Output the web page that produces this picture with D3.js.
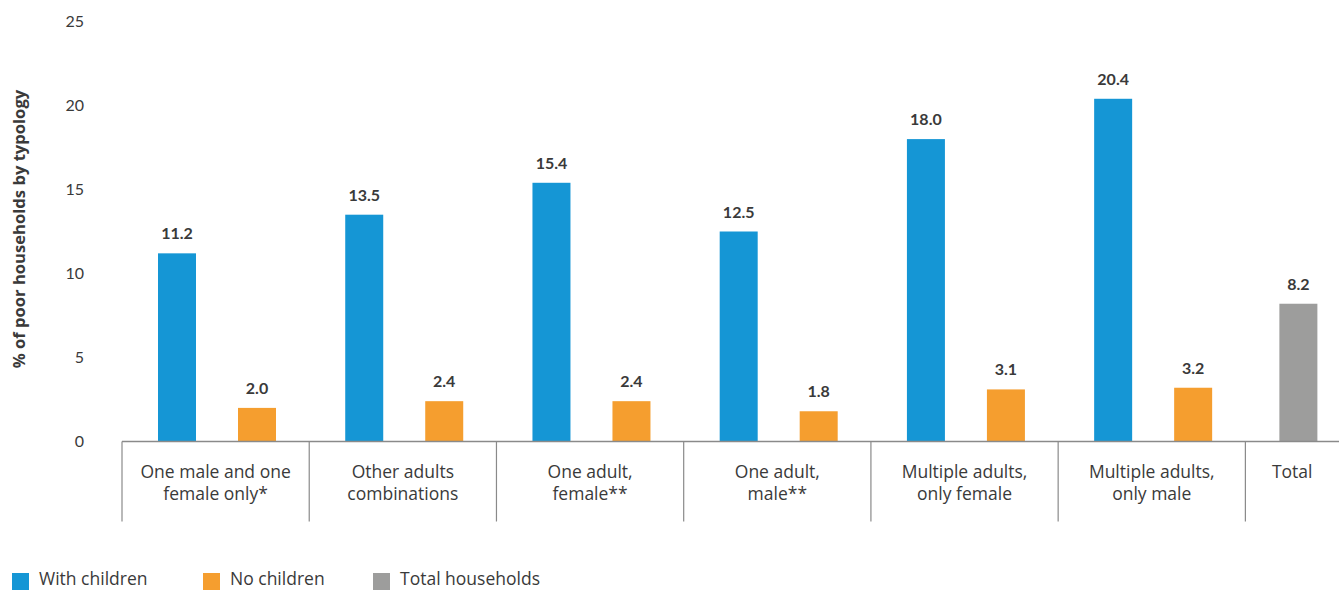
<!DOCTYPE html>
<html>
<head>
<meta charset="utf-8">
<script src="https://cdn.jsdelivr.net/npm/d3@7"></script>
<style>
  html, body { margin: 0; padding: 0; background: #fff; }
  svg { display: block; font-family: "Lato", "Open Sans", sans-serif; }
</style>
</head>
<body>
<svg id="chart" width="1339" height="590"></svg>
<script>
// ---- data ----
const categories = [
  ["One male and one", "female only*"],
  ["Other adults", "combinations"],
  ["One adult,", "female**"],
  ["One adult,", "male**"],
  ["Multiple adults,", "only female"],
  ["Multiple adults,", "only male"]
];
const withChildren = [11.2, 13.5, 15.4, 12.5, 18.0, 20.4];
const noChildren   = [2.0, 2.4, 2.4, 1.8, 3.1, 3.2];
const totalLabel   = ["Total"];
const totalValue   = [8.2];
const yTicks       = [0, 5, 10, 15, 20, 25];
const seriesNames  = ["With children", "No children", "Total households"];
const seriesColors = ["#1596d5", "#f59e2f", "#9d9d9c"];

// ---- layout ----
const svg = d3.select("#chart");
const textColor = "#3a3a3a";
const axisColor = "#8a8a8a";
const wideFont = "'Open Sans', 'Noto Sans', sans-serif";
const left = 122, right = 1339, baseY = 441.5, topY = 21.5;
const nSlots = categories.length * 2 + 1;

const x = d3.scaleLinear().domain([0, nSlots]).range([left, right]);
const y = d3.scaleLinear().domain([0, 25]).range([baseY, topY]);
const slotW = x(1) - x(0);
const barW = 38;
const offBlue = 36 / slotW, offOrange = 116 / slotW, offGray = 34 / slotW;

// y tick labels
svg.append("g").selectAll("text").data(yTicks).join("text")
  .attr("x", 84).attr("y", d => y(d))
  .attr("dy", "0.35em")
  .attr("text-anchor", "end")
  .attr("font-size", 16)
  .attr("fill", textColor)
  .text(d => d);

// y title
svg.append("text")
  .attr("transform", `translate(25, 229) rotate(-90)`)
  .attr("text-anchor", "middle")
  .attr("font-family", wideFont)
  .attr("font-size", 16.6)
  .attr("font-weight", 700)
  .attr("fill", textColor)
  .text("% of poor households by typology");

// bars
const bars = [];
withChildren.forEach((v, i) => bars.push({v, x0: x(2 * i + offBlue), c: seriesColors[0]}));
noChildren.forEach((v, i) => bars.push({v, x0: x(2 * i + offOrange), c: seriesColors[1]}));
totalValue.forEach((v, i) => bars.push({v, x0: x(categories.length * 2 + i + offGray), c: seriesColors[2]}));

svg.append("g").selectAll("rect").data(bars).join("rect")
  .attr("x", d => d.x0).attr("width", barW)
  .attr("y", d => y(d.v)).attr("height", d => y(0) - y(d.v))
  .attr("fill", d => d.c);

svg.append("g").selectAll("text").data(bars).join("text")
  .attr("x", d => d.x0 + barW / 2)
  .attr("y", d => y(d.v) - 14)
  .attr("text-anchor", "middle")
  .attr("font-size", 16)
  .attr("font-weight", 700)
  .attr("fill", textColor)
  .text(d => d3.format(".1f")(d.v));

// x axis line
svg.append("line")
  .attr("x1", left).attr("x2", right)
  .attr("y1", baseY).attr("y2", baseY)
  .attr("stroke", axisColor).attr("stroke-width", 1.5);

// group dividers
const dividers = d3.range(categories.length + 1).map(i => x(2 * i));
svg.append("g").selectAll("line").data(dividers).join("line")
  .attr("x1", d => d).attr("x2", d => d)
  .attr("y1", baseY).attr("y2", 521.5)
  .attr("stroke", axisColor).attr("stroke-width", 1.2);

// category labels
const groups = categories.map((lines, i) => ({lines, cx: x(2 * i + 1)}))
  .concat(totalLabel.map((t, i) => ({lines: [t], cx: x(categories.length * 2 + i + 0.5)})));
const gl = svg.append("g").selectAll("text").data(groups).join("text")
  .attr("text-anchor", "middle")
  .attr("font-family", wideFont)
  .attr("font-size", 17.5)
  .attr("fill", textColor);
gl.selectAll("tspan").data(d => d.lines.map(l => ({l, cx: d.cx}))).join("tspan")
  .attr("x", d => d.cx)
  .attr("y", (d, j) => 477.5 + j * 22)
  .text(d => d.l);

// legend
const legX = [12, 203, 373];
const lg = svg.append("g").selectAll("g").data(seriesNames).join("g")
  .attr("transform", (d, i) => `translate(${legX[i]}, 573)`);
lg.append("rect").attr("width", 17).attr("height", 17).attr("fill", (d, i) => seriesColors[i]);
lg.append("text").attr("x", 27).attr("y", 12)
  .attr("font-family", wideFont)
  .attr("font-size", 17.5).attr("fill", textColor).text(d => d);
</script>
</body>
</html>
